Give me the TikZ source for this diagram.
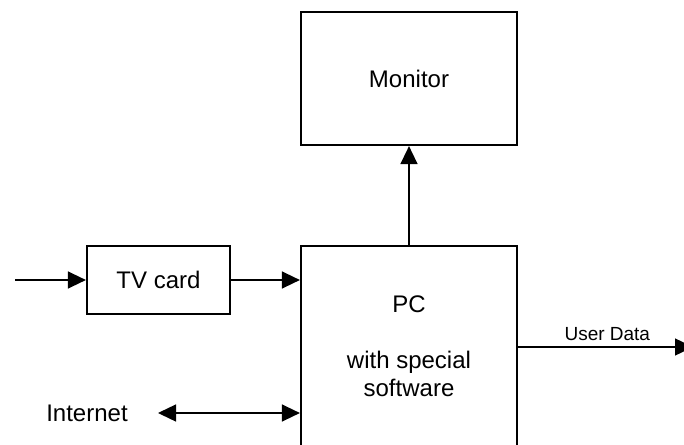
\documentclass[tikz,border=0pt]{standalone}
\usepackage{fontspec}
\setmainfont{Liberation Sans}
\usepackage{tikz}
\usetikzlibrary{arrows.meta}
\usetikzlibrary{positioning}
\tikzset{
  block/.style={rectangle, draw=black, line width=2.2pt, inner sep=0pt},
  flow/.style={-{Triangle[length=18pt,width=17pt]}, line width=1.4pt, draw=black},
  flowboth/.style={{Triangle[length=18pt,width=17pt]}-{Triangle[length=18pt,width=17pt]}, line width=1.4pt, draw=black}
}
\begin{document}
\begin{tikzpicture}[x=1pt, y=-1pt, font=\fontsize{24}{28}\selectfont]
\clip (0, 0) rectangle (684, 444);
\fill [white] (0, 0) rectangle (684, 444);
\node [block, minimum width=216pt, minimum height=133pt] (Mon) at (409, 78.5) {Monitor};
\node [block, minimum width=216pt, minimum height=230pt] (PC) at (409, 361) {};
\node [align=center] (PCtxt) at (409, 346) {PC\\ \\ with special\\ software};
\node [block, minimum width=143pt, minimum height=68pt] (TV) at (158.5, 280) {TV card};
\node (Inet) at (87, 413) {Internet};
\coordinate (In) at (15, 280);
\coordinate (InetEnd) at (158, 413);
\coordinate (Out) at (693, 347);
\draw [flow] (In) to (TV.west);
\draw [flow] (TV.east) to (TV.east -| PC.west);
\draw [flow] (PC.north) to (Mon.south);
\draw [flowboth] (InetEnd) to (InetEnd -| PC.west);
\draw [flow] (Out -| PC.east) to node [above=2pt, pos=0.51, font=\fontsize{19}{22}\selectfont] (UD) {User Data} (Out);
\end{tikzpicture}
\end{document}
